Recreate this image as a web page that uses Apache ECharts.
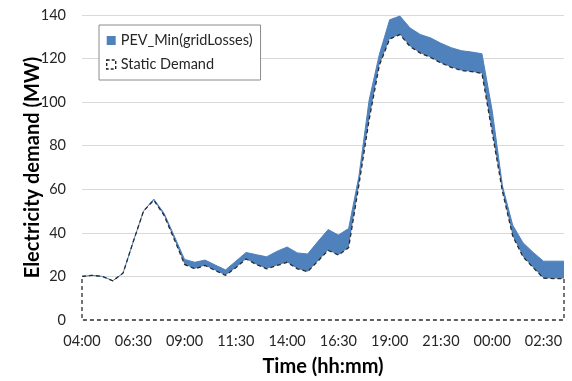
<!DOCTYPE html>
<html>
<head>
<meta charset="utf-8">
<script src="https://cdn.jsdelivr.net/npm/echarts@6/dist/echarts.min.js"></script>
<style>
html,body{margin:0;padding:0;background:#fff;}
#chart{width:572px;height:381px;}
</style>
</head>
<body>
<div id="chart"></div>
<script>
var times = ["04:00","04:30","05:00","05:30","06:00","06:30","07:00","07:30","08:00","08:30",
  "09:00","09:30","10:00","10:30","11:00","11:30","12:00","12:30","13:00","13:30",
  "14:00","14:30","15:00","15:30","16:00","16:30","17:00","17:30","18:00","18:30",
  "19:00","19:30","20:00","20:30","21:00","21:30","22:00","22:30","23:00","23:30",
  "00:00","00:30","01:00","01:30","02:00","02:30","03:00","03:30"];

var staticDemand = [20,20.5,20,18,21.5,36,50,55,48,37,
  25.5,23.5,25,22.7,20.5,24,28,25.5,23.5,25,
  26.5,23.5,22.2,27,32,29.8,33.2,62,92,117,
  129,131,125.5,122.5,120.5,118,116,114.5,114,113.2,
  86,59,38.5,29,24,19.2,19,19];

var pevMinGridLosses = [20,20.5,20,18,21.5,36,50,55.5,49,38.5,
  27.8,26.5,27.5,25.2,23,27,31,30,29,31.5,
  33.5,30.8,30.3,36,41.5,39,42,66,101,122,
  137.8,139.5,134,131,129.5,127,125,123.6,123,122.2,
  96,61.5,43.5,35.5,31,27,27,27];

var yTicks = [0,20,40,60,80,100,120,140];

var band = pevMinGridLosses.map(function(v,i){ return +(v - staticDemand[i]).toFixed(2); });

var chart = echarts.init(document.getElementById('chart'), null, {renderer:'canvas'});
var FONT = 'Lato';
var option = {
  animation:false,
  backgroundColor:'#ffffff',
  grid:{left:82,right:8,top:15,bottom:61,containLabel:false,outerBoundsMode:'none'},
  legend:{
    left:99, top:25, orient:'vertical',
    backgroundColor:'#ffffff', borderColor:'#8c8c8c', borderWidth:1,
    padding:[8,8,8,7], itemGap:9, itemWidth:9, itemHeight:9,
    textStyle:{fontFamily:FONT,fontSize:14.5,color:'#262626',lineHeight:15},
    data:[
      {name:'PEV_Min(gridLosses)', icon:'rect', itemStyle:{color:'#4F81BD'}},
      {name:'Static Demand', icon:'rect', itemStyle:{color:'rgba(0,0,0,0)',borderColor:'#222',borderWidth:1.4,borderType:[3,2]}}
    ]
  },
  xAxis:{
    type:'category', data:times, boundaryGap:false,
    axisLine:{show:false}, axisTick:{show:false},
    axisLabel:{interval:4, margin:14, fontFamily:FONT, fontSize:14.5, color:'#262626'},
    splitLine:{show:false},
    name:'Time (hh:mm)', nameLocation:'middle', nameGap:37, nameMoveOverlap:false,
    nameTextStyle:{fontFamily:FONT,fontSize:20,fontWeight:'bold',color:'#000'}
  },
  yAxis:{
    type:'value', min:0, max:140, interval:20,
    axisLine:{show:false}, axisTick:{show:false},
    axisLabel:{margin:16, fontFamily:FONT, fontSize:14.5, color:'#262626'},
    splitLine:{show:true, showMinLine:false, lineStyle:{color:'#d9d9d9',width:1}},
    name:'Electricity demand (MW)', nameLocation:'middle', nameGap:39, nameMoveOverlap:false,
    nameTextStyle:{fontFamily:FONT,fontSize:20,fontWeight:'bold',color:'#000'}
  },
  series:[
    {name:'base', type:'line', stack:'s', data:staticDemand, symbol:'none',
     lineStyle:{width:0,opacity:0}, areaStyle:{opacity:0}, silent:true},
    {name:'PEV_Min(gridLosses)', type:'line', stack:'s', data:band, symbol:'none',
     lineStyle:{width:1,color:'#4F81BD'}, areaStyle:{color:'#4F81BD',opacity:1},
     itemStyle:{color:'#4F81BD'}},
    {name:'Static Demand', type:'custom', data:staticDemand, z:5,
     itemStyle:{color:'#333'},
     renderItem:function(params, api){
       if(params.dataIndex !== 0) return null;
       var pts = staticDemand.map(function(v,i){ return api.coord([i,v]); });
       pts.push(api.coord([staticDemand.length-1,0]));
       pts.push(api.coord([0,0]));
       return {type:'polygon', shape:{points:pts},
         style:{fill:null, stroke:'#2b2b2b', lineWidth:1.3, lineDash:[4,3]}};
     }}
  ]
};
chart.setOption(option);
</script>
</body>
</html>
